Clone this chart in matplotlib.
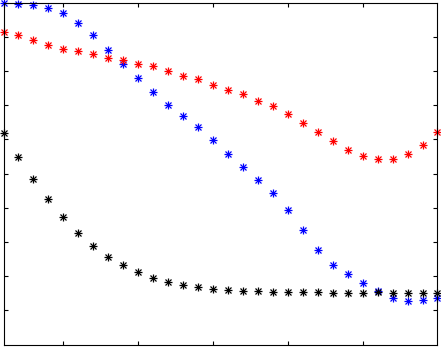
import matplotlib
matplotlib.use("Agg")
import matplotlib.pyplot as plt
import numpy as np

x = np.arange(1, 31)

blue = [10.0, 9.97, 9.93, 9.85, 9.68, 9.39, 9.04, 8.62, 8.19, 7.78,
        7.37, 7.01, 6.69, 6.37, 5.99, 5.58, 5.20, 4.82, 4.44, 3.94,
        3.35, 2.77, 2.33, 2.07, 1.81, 1.55, 1.37, 1.28, 1.31, 1.35]
red = [9.15, 9.04, 8.90, 8.77, 8.65, 8.57, 8.48, 8.39, 8.33, 8.21,
       8.13, 8.01, 7.86, 7.75, 7.60, 7.45, 7.31, 7.13, 6.96, 6.75,
       6.49, 6.22, 5.96, 5.70, 5.52, 5.43, 5.43, 5.58, 5.82, 6.22]
black = [6.17, 5.49, 4.85, 4.26, 3.74, 3.27, 2.89, 2.57, 2.33, 2.13,
         1.95, 1.83, 1.75, 1.69, 1.63, 1.60, 1.57, 1.57, 1.54, 1.54,
         1.54, 1.54, 1.51, 1.51, 1.51, 1.53, 1.51, 1.51, 1.51, 1.51]

W, H = 441, 348
fig = plt.figure(figsize=(W / 100, H / 100), dpi=100)
ax = fig.add_axes([3.5 / W, 3.5 / H, 434 / W, 342 / H])

# matlab-style asterisk: a plus with a smaller cross on top
for ys, c in [(blue, "#0000ff"), (red, "#ff0000"), (black, "#000000")]:
    ax.plot(x, ys, linestyle="none", marker="+", color=c,
            markersize=6, markeredgewidth=0.9, clip_on=False)
    ax.plot(x, ys, linestyle="none", marker="x", color=c,
            markersize=4, markeredgewidth=0.9, clip_on=False)

ax.set_xlim(1, 30)
ax.set_ylim(0, 10)
ax.set_xticks([5, 10, 15, 20, 25])
ax.set_yticks(range(1, 10))
ax.tick_params(direction="in", length=3, width=0.8, top=True, right=True,
               labelbottom=False, labelleft=False)
for s in ax.spines.values():
    s.set_linewidth(0.8)

fig.savefig("out.png", dpi=100)
